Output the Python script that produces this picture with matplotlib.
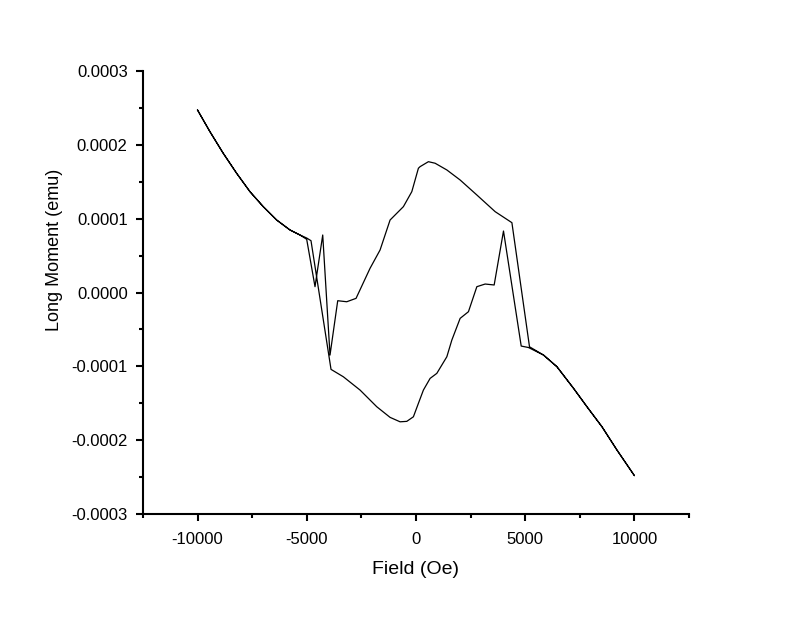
import numpy as np
import matplotlib
matplotlib.use('Agg')
import matplotlib.pyplot as plt
from matplotlib.ticker import MultipleLocator, FormatStrFormatter

plt.rcParams['font.family'] = ['Liberation Sans', 'DejaVu Sans']
plt.rcParams['axes.unicode_minus'] = False

# ascending field branch (-10000 -> +10000), moment in units of 1e-4 emu
field_up = [-10000, -9436, -8827, -8213, -7603, -6994, -6380, -5770, -5312, -5005,
            -4808, -3891, -3327, -2562, -1797, -1187, -729, -422, -119, 110,
            339, 646, 953, 1412, 1641, 2021, 2401, 2786, 3167, 3579,
            4006, 4817, 5151, 5839, 6453, 7214, 7828, 8515, 9203, 10000]
moment_up = [2.47, 2.179, 1.886, 1.615, 1.366, 1.163, 0.982, 0.847, 0.779, 0.738,
             0.702, -1.041, -1.141, -1.321, -1.547, -1.691, -1.751, -1.745, -1.683, -1.501,
             -1.321, -1.163, -1.095, -0.870, -0.644, -0.350, -0.260, 0.079, 0.115, 0.102,
             0.833, -0.725, -0.745, -0.847, -1.005, -1.298, -1.547, -1.818, -2.134, -2.48]

# descending field branch (+10000 -> -10000)
field_down = [10000, 9203, 8515, 7828, 7214, 6453, 5839, 5197, 4391, 3625,
              2786, 2021, 1412, 875, 568, 188, 110, -192, -577, -1187,
              -1645, -2104, -2745, -3171, -3584, -3937, -4271, -4624, -5005, -5312,
              -5770, -6380, -6994, -7603, -8213, -8827, -9436, -10000]
moment_down = [-2.48, -2.134, -1.818, -1.547, -1.298, -1.005, -0.847, -0.735, 0.946, 1.095,
               1.321, 1.524, 1.660, 1.751, 1.772, 1.705, 1.683, 1.366, 1.163, 0.982,
               0.576, 0.328, -0.079, -0.125, -0.111, -0.847, 0.779, 0.079, 0.721, 0.779,
               0.847, 0.982, 1.163, 1.366, 1.615, 1.886, 2.179, 2.47]

fig = plt.figure(figsize=(8, 6.17), dpi=100)
ax = fig.add_axes([0.17875, 0.1669, 0.6825, 0.718])

field = field_up + field_down
moment = np.array(moment_up + moment_down) * 1e-4
ax.plot(field, moment, color='black', lw=0.9)

ax.set_xlim(-12500, 12500)
ax.set_ylim(-0.0003, 0.0003)
ax.xaxis.set_major_locator(MultipleLocator(5000))
ax.xaxis.set_minor_locator(MultipleLocator(2500))
ax.yaxis.set_major_locator(MultipleLocator(0.0001))
ax.yaxis.set_minor_locator(MultipleLocator(0.00005))
ax.yaxis.set_major_formatter(FormatStrFormatter('%.4f'))

for side in ['top', 'right']:
    ax.spines[side].set_visible(False)
for side in ['left', 'bottom']:
    ax.spines[side].set_linewidth(1.5)

ax.tick_params(which='major', direction='out', length=5, width=1.5, labelsize=12, pad=6)
ax.tick_params(which='minor', direction='out', length=3, width=1.5)
ax.tick_params(axis='x', which='major', pad=8)

ax.set_xlabel('Field (Oe)', fontsize=14, labelpad=10)
ax.set_ylabel('Long Moment (emu)', fontsize=13)
ax.yaxis.set_label_coords(-0.147, 0.596)

fig.savefig('out.png', dpi=100)
